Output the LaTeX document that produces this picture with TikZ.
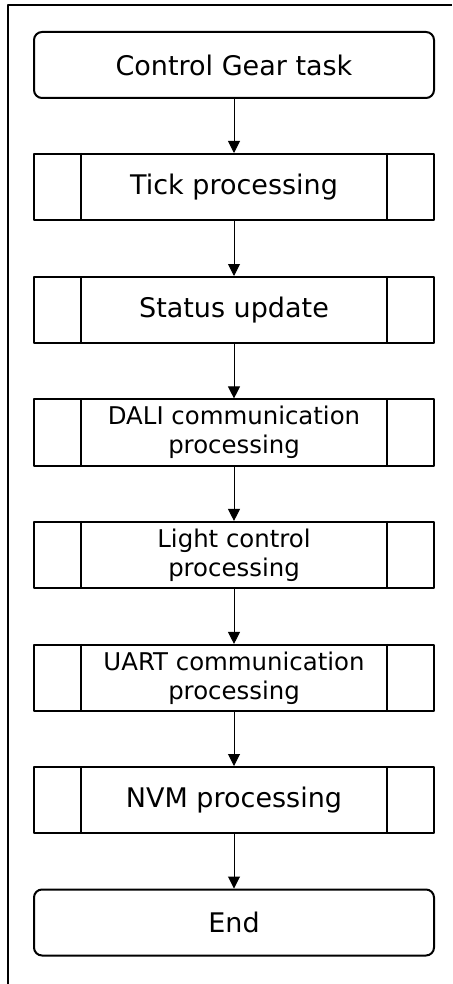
\documentclass[tikz,border=0pt]{standalone}
\usepackage{fontspec}
\setmainfont{DejaVu Sans}
\usetikzlibrary{arrows.meta}
\tikzset{
  term/.style={draw, line width=1pt, rounded corners=4pt, minimum width=200pt, minimum height=33pt, font=\fontsize{13.5}{16}\selectfont},
  subproc/.style={draw, line width=1pt, minimum width=200pt, minimum height=33pt, align=center,
    append after command={
      \pgfextra{\draw[line width=1pt] ([xshift=24pt]\tikzlastnode.north west) -- ([xshift=24pt]\tikzlastnode.south west)
        ([xshift=-24pt]\tikzlastnode.north east) -- ([xshift=-24pt]\tikzlastnode.south east);}}},
  big/.style={font=\fontsize{13.5}{16}\selectfont},
  small/.style={font=\fontsize{12.2}{14.6}\selectfont},
  flow/.style={-{Triangle[width=6pt,length=6pt]}, line width=0.5pt}
}
\begin{document}
\begin{tikzpicture}[x=0.5pt, y=-0.5pt, line join=round]
  \useasboundingbox (0,0) rectangle (452,984);
  \draw[line width=1pt] (8,984) -- (8,5) -- (452,5);
  \node[term] (start) at (234,65) {Control Gear task};
  \node[subproc, big] (tick) at (234,187) {Tick processing};
  \node[subproc, big] (status) at (234,310) {Status update};
  \node[subproc, small] (dali) at (234,432.5) {DALI communication\\processing};
  \node[subproc, small] (light) at (234,555) {Light control\\processing};
  \node[subproc, small] (uart) at (234,678) {UART communication\\processing};
  \node[subproc, big] (nvm) at (234,800) {NVM processing};
  \node[term] (end) at (234,922.5) {End};
  \foreach \a/\b in {start/tick, tick/status, status/dali, dali/light, light/uart, uart/nvm, nvm/end}
    \draw[flow] (\a) -- (\b);
\end{tikzpicture}
\end{document}
